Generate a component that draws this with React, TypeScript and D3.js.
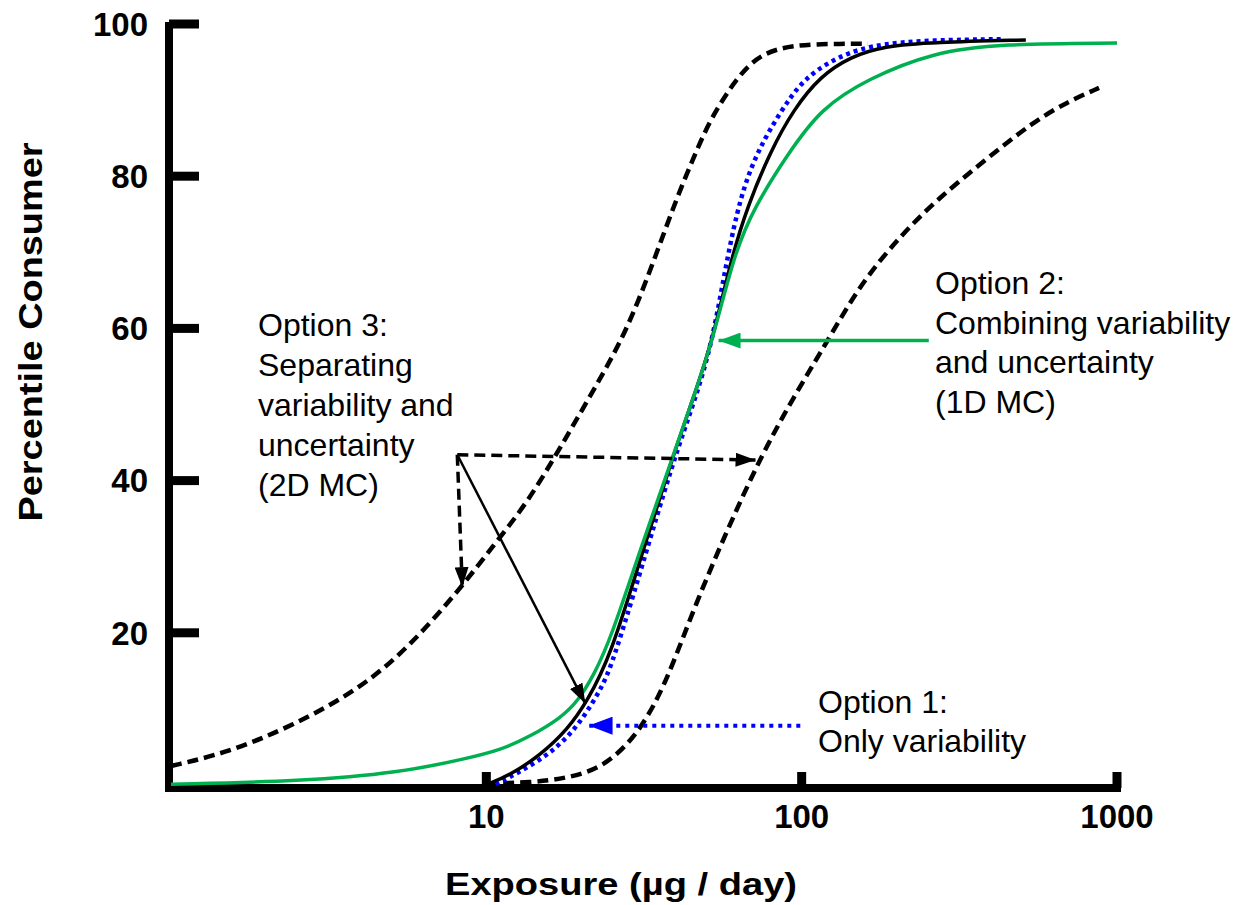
import * as d3 from "d3";

// exposure (µg/day), percentile consumer
const upperBound2D: [number, number][] = [
  [1.0, 2.5], [1.5, 4.2], [2.44, 7.8], [4.0, 12.7], [5.74, 18.3], [8.27, 25.8],
  [10.5, 31.4], [13.5, 37.1], [17.2, 44.4], [21.9, 51.9], [28.0, 59.7], [34.9, 70.2],
  [40.4, 77.4], [45.4, 82.4], [51.4, 87.6], [62.6, 93.1], [74.1, 96.1], [94.3, 97.3],
  [136, 97.4], [162, 97.4],
];

const lowerBound2D: [number, number][] = [
  [10, 0.2], [13.8, 0.3], [18.1, 0.9], [23.0, 2.2], [28.0, 5.2], [32.4, 8.8],
  [37.6, 14.0], [46.1, 23.8], [58.2, 33.6], [74.1, 43.1], [94.3, 51.0], [121, 58.4],
  [154, 65.9], [206, 72.2], [270, 77.0], [378, 82.0], [545, 87.2], [699, 89.8], [877, 91.6],
];

const median2D: [number, number][] = [
  [10.1, 0.1], [11.9, 1.3], [14.8, 3.9], [18.1, 7.3], [20.9, 11.0], [24.8, 17.0],
  [30.8, 29.7], [38.7, 42.7], [45.1, 50.6], [52.2, 58.4], [59.5, 68.9], [67.4, 76.1],
  [79.7, 83.3], [94.3, 88.8], [115, 93.2], [143, 95.7], [182, 97.1], [262, 97.6], [514, 97.9],
];

const variabilityOnly: [number, number][] = [
  [10.7, 0.1], [14.8, 3.1], [18.9, 6.8], [23.0, 12.4], [25.1, 15.9], [30.8, 28.0],
  [39.2, 42.7], [46.1, 50.8], [52.2, 58.4], [57.8, 68.9], [64.0, 77.4], [71.4, 82.6],
  [79.7, 86.3], [92.3, 90.5], [103, 92.8], [121, 95.0], [162, 97.3], [262, 97.9], [428, 98.0],
];

const combined1D: [number, number][] = [
  [1.0, 0.1], [2.6, 0.5], [5.3, 1.6], [8.7, 3.5], [11.1, 4.6], [13.8, 6.4],
  [17.2, 8.8], [19.5, 11.0], [21.9, 14.4], [24.8, 19.2], [30.8, 31.0], [38.7, 42.7],
  [45.1, 50.6], [52.2, 58.4], [60.8, 69.5], [70.4, 75.8], [90.3, 82.9], [115, 88.9],
  [162, 92.8], [262, 96.3], [428, 97.4], [1000, 97.5],
];

const xTicks = [10, 100, 1000];
const yTicks = [20, 40, 60, 80, 100];

// annotation arrows, in data units: [from, to]
const option3Arrows = [
  { from: [8.09, 43.4], to: [8.39, 26.0], dashed: true },
  { from: [8.09, 43.4], to: [71.4, 42.7], dashed: true },
  { from: [8.09, 43.4], to: [20.6, 10.7], dashed: false },
];
const option2Arrow = { from: [253, 58.4], to: [54.5, 58.4] };
const option1Arrow = { from: [99, 7.8], to: [21.1, 7.8] };

const option3Lines = ["Option 3:", "Separating", "variability and", "uncertainty", "(2D MC)"];
const option2Lines = ["Option 2:", "Combining variability", "and uncertainty", "(1D MC)"];
const option1Lines = ["Option 1:", "Only variability"];

const GREEN = "#00b050";
const BLUE = "#0000ff";
const FONT = "'Liberation Sans', Arial, Helvetica, sans-serif";

export default function App() {
  const width = 1242;
  const height = 905;

  const x = d3.scaleLog().domain([1, 1000]).range([171, 1117]);
  const y = d3.scaleLinear().domain([0, 100]).range([785, 24]);

  // B-spline smooths the hand-read points into the clean S-shapes
  const line = d3
    .line<[number, number]>()
    .x((d) => x(d[0]))
    .y((d) => y(d[1]))
    .curve(d3.curveBasis);

  const axisY = y(0) + 3;
  const axisX = x(1) - 2;

  return (
    <svg
      width={width}
      height={height}
      style={{ position: "absolute", left: 0, top: 0, background: "#fff" }}
      fontFamily={FONT}
    >
      <defs>
        <marker id="ah-black" markerUnits="userSpaceOnUse" markerWidth={20} markerHeight={14}
          refX={20} refY={7} orient="auto">
          <path d="M0,0 L20,7 L0,14 z" fill="#000" />
        </marker>
        <marker id="ah-green" markerUnits="userSpaceOnUse" markerWidth={22} markerHeight={16}
          refX={22} refY={8} orient="auto">
          <path d="M0,0 L22,8 L0,16 z" fill={GREEN} />
        </marker>
        <marker id="ah-blue" markerUnits="userSpaceOnUse" markerWidth={24} markerHeight={18}
          refX={24} refY={9} orient="auto">
          <path d="M0,0 L24,9 L0,18 z" fill={BLUE} />
        </marker>
      </defs>

      {/* axes */}
      <line x1={axisX} x2={axisX} y1={y(100) - 2} y2={axisY + 4} stroke="#000" strokeWidth={8} />
      <line x1={axisX - 4} x2={x(1000) + 4} y1={axisY} y2={axisY} stroke="#000" strokeWidth={8} />
      {yTicks.map((t) => (
        <g key={t}>
          <line x1={axisX} x2={axisX + 30} y1={y(t)} y2={y(t)} stroke="#000" strokeWidth={9} />
          <text x={148} y={y(t)} dy="0.36em" textAnchor="end" fontSize={33} fontWeight="bold">
            {t}
          </text>
        </g>
      ))}
      {xTicks.map((t) => (
        <g key={t}>
          <line x1={x(t)} x2={x(t)} y1={axisY} y2={axisY - 16} stroke="#000" strokeWidth={9} />
          <text x={x(t)} y={828} textAnchor="middle" fontSize={33} fontWeight="bold">
            {t}
          </text>
        </g>
      ))}
      <text x={621} y={895} textAnchor="middle" fontSize={32} fontWeight="bold"
        textLength={352} lengthAdjust="spacingAndGlyphs">
        Exposure (µg / day)
      </text>
      <text transform="translate(42,332) rotate(-90)" textAnchor="middle" fontSize={33}
        fontWeight="bold" textLength={379} lengthAdjust="spacingAndGlyphs">
        Percentile Consumer
      </text>

      {/* curves */}
      <path d={line(upperBound2D) ?? ""} fill="none" stroke="#000" strokeWidth={4.5} strokeDasharray="11 6" />
      <path d={line(lowerBound2D) ?? ""} fill="none" stroke="#000" strokeWidth={4.5} strokeDasharray="11 6" />
      <path d={line(variabilityOnly) ?? ""} fill="none" stroke={BLUE} strokeWidth={4.5} strokeDasharray="4 4" />
      <path d={line(median2D) ?? ""} fill="none" stroke="#000" strokeWidth={3.5} />
      <path d={line(combined1D) ?? ""} fill="none" stroke={GREEN} strokeWidth={3.5} />

      {/* annotation arrows */}
      {option3Arrows.map((a, i) => (
        <line key={i}
          x1={x(a.from[0])} y1={y(a.from[1])} x2={x(a.to[0])} y2={y(a.to[1])}
          stroke="#000" strokeWidth={a.dashed ? 3.5 : 2.5}
          strokeDasharray={a.dashed ? "11 6" : undefined}
          markerEnd="url(#ah-black)" />
      ))}
      <line x1={x(option2Arrow.from[0])} y1={y(option2Arrow.from[1])}
        x2={x(option2Arrow.to[0])} y2={y(option2Arrow.to[1])}
        stroke={GREEN} strokeWidth={3.5} markerEnd="url(#ah-green)" />
      <line x1={x(option1Arrow.from[0])} y1={y(option1Arrow.from[1])}
        x2={x(option1Arrow.to[0])} y2={y(option1Arrow.to[1])}
        stroke={BLUE} strokeWidth={4} strokeDasharray="4 5" markerEnd="url(#ah-blue)" />

      {/* annotation text */}
      <text fontSize={32}>
        {option3Lines.map((s, i) => (
          <tspan key={i} x={258} y={336 + i * 40}>{s}</tspan>
        ))}
      </text>
      <text fontSize={32}>
        {option2Lines.map((s, i) => (
          <tspan key={i} x={935} y={294 + i * 39.5}>{s}</tspan>
        ))}
      </text>
      <text fontSize={32}>
        {option1Lines.map((s, i) => (
          <tspan key={i} x={818} y={713 + i * 39}>{s}</tspan>
        ))}
      </text>
    </svg>
  );
}
